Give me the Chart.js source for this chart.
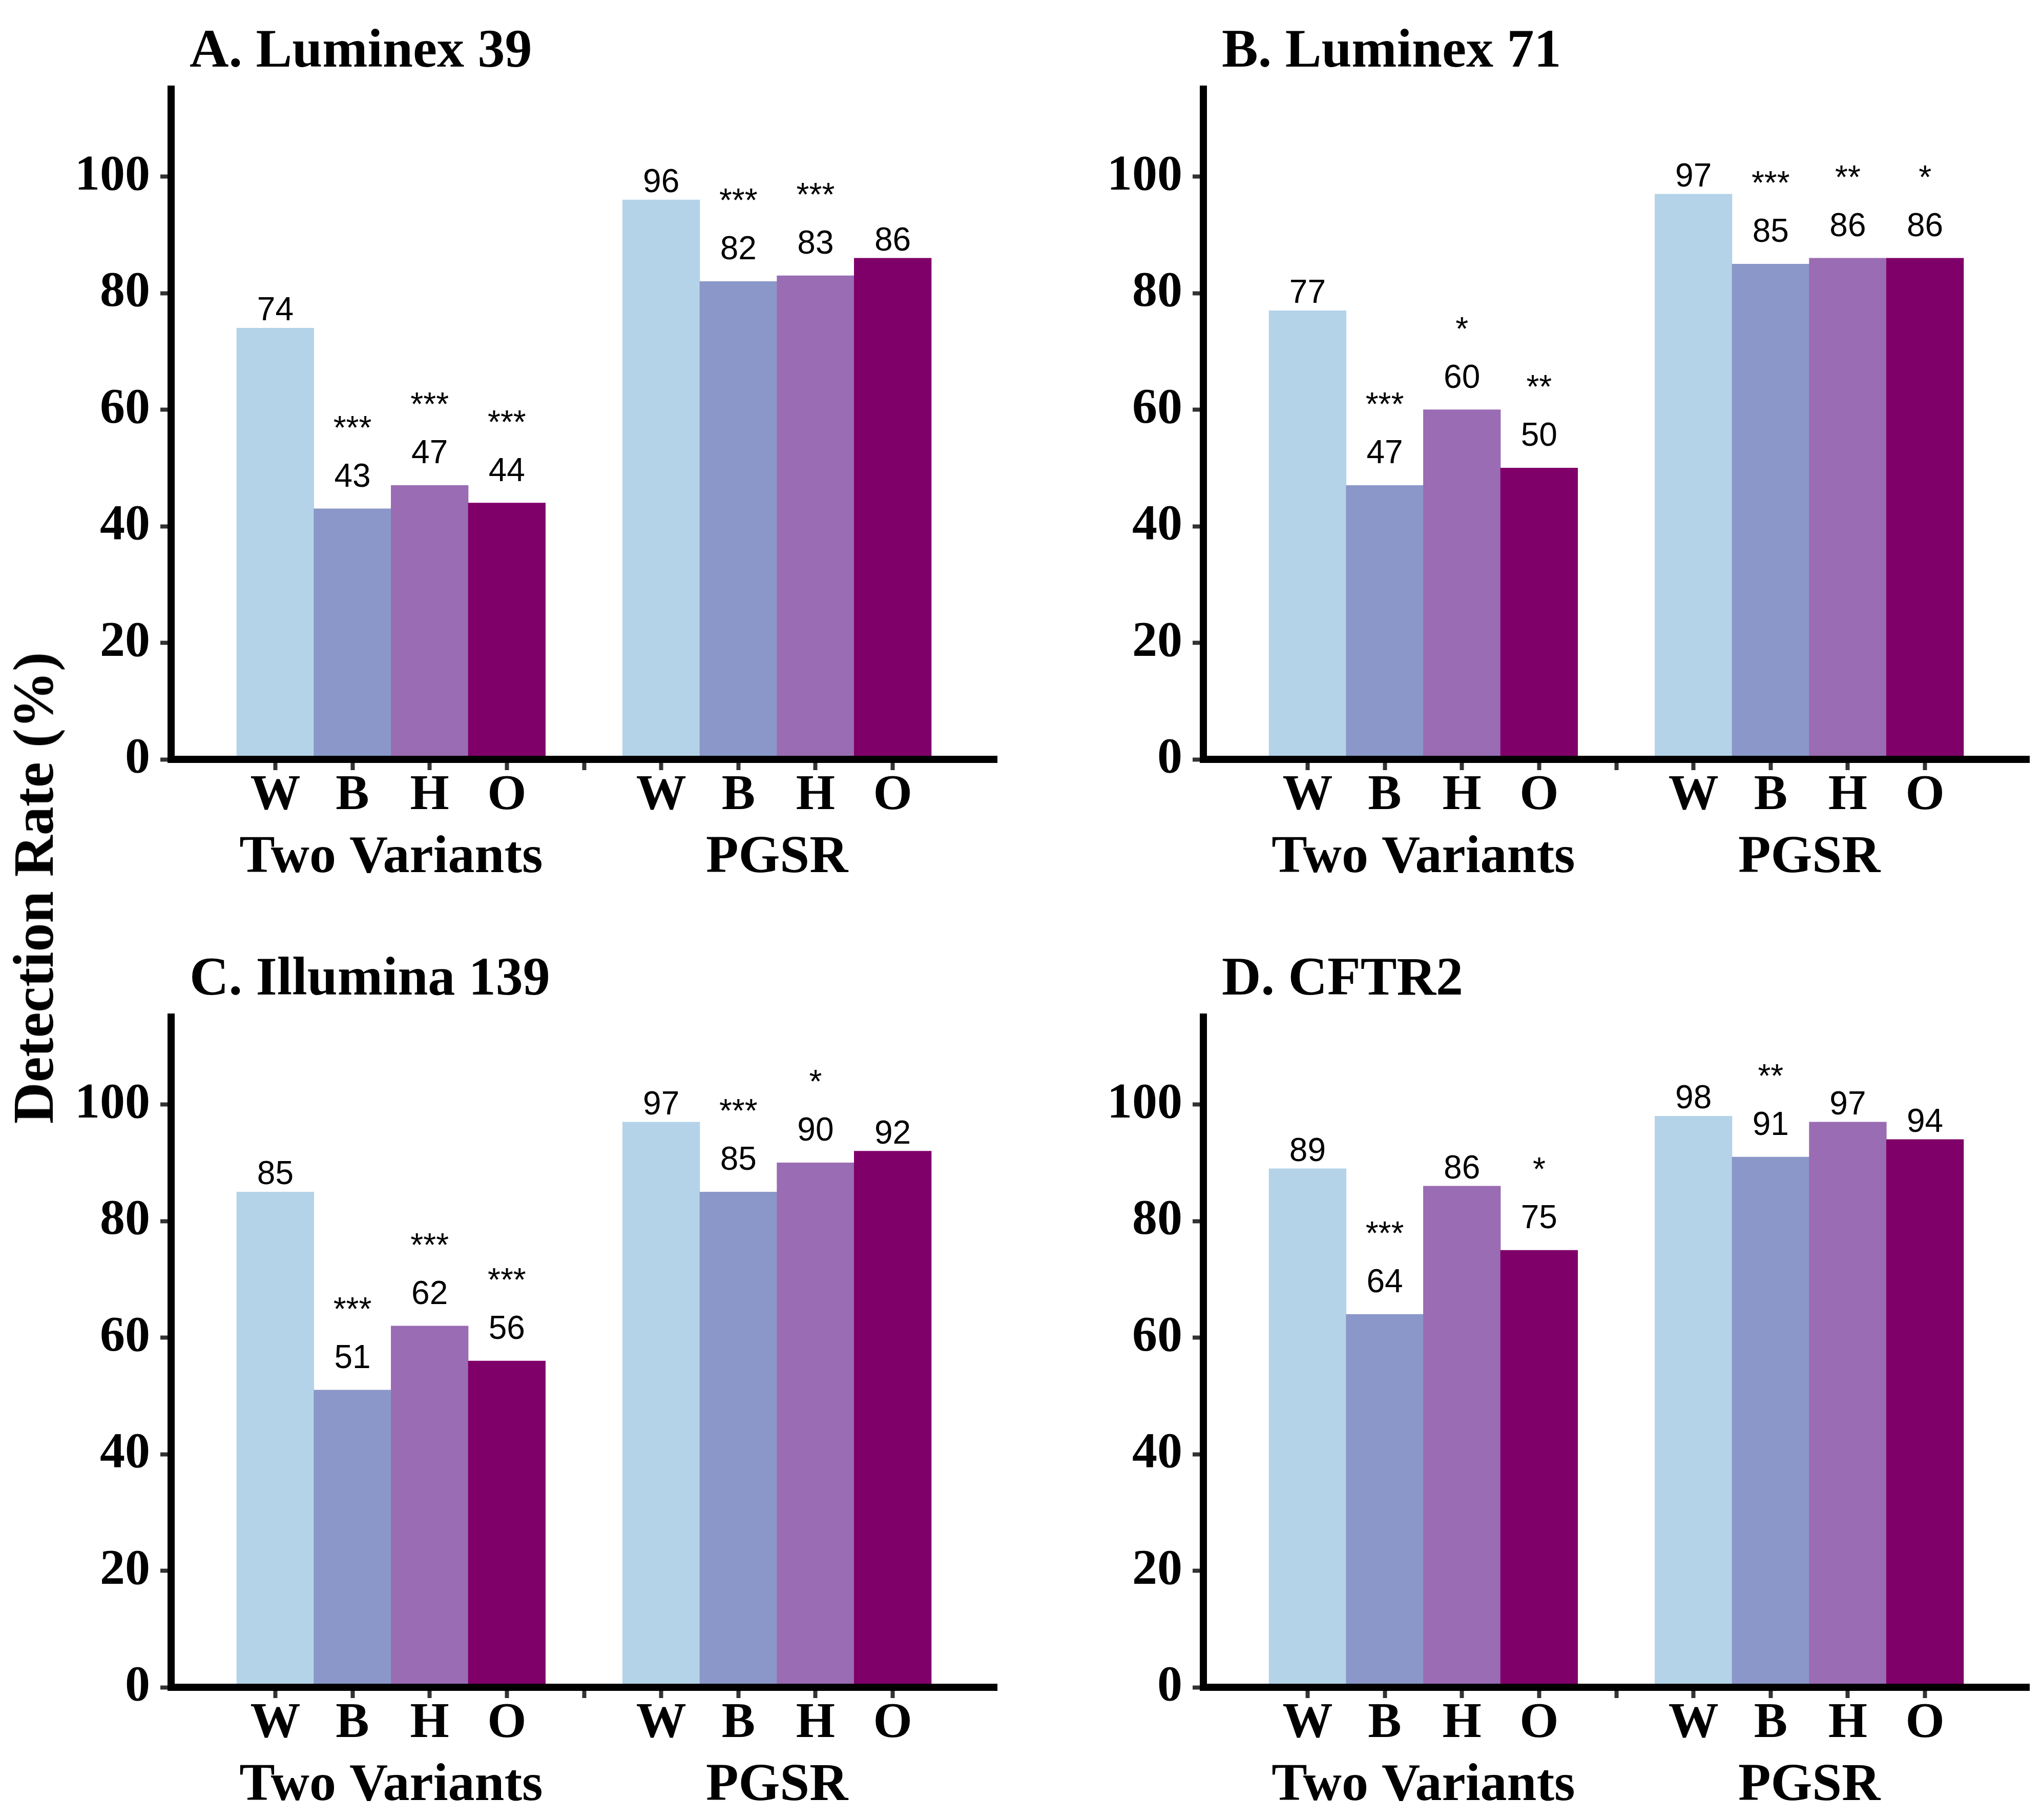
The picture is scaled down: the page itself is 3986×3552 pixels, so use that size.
<!DOCTYPE html>
<html>
<head>
<meta charset="utf-8">
<title>Detection Rate</title>
<script src="https://cdn.jsdelivr.net/npm/chart.js@4.4.1/dist/chart.umd.min.js"></script>
<style>
  html, body { margin: 0; padding: 0; background: #fff; overflow: hidden; }
  body { width: 3986px; height: 3552px; position: relative; }
  canvas { position: absolute; }
  #ytitle {
    position: absolute; left: 65px; top: 1733px;
    transform: translate(-50%, -50%) rotate(-90deg);
    font: bold 112px "Liberation Serif"; line-height: 112px;
    white-space: nowrap; color: #000;
  }
</style>
</head>
<body>
<canvas id="panelA" width="1971" height="1741" style="left:0px;top:0px"></canvas>
<canvas id="panelB" width="1971" height="1741" style="left:2015px;top:0px"></canvas>
<canvas id="panelC" width="1971" height="1741" style="left:0px;top:1811px"></canvas>
<canvas id="panelD" width="1971" height="1741" style="left:2015px;top:1811px"></canvas>
<div id="ytitle">Detection Rate (%)</div>

<script>
// categories
const groups = ["Two Variants", "PGSR"];
const xTickLabels = ["W", "B", "H", "O", "", "W", "B", "H", "O"];
const yTicks = [0, 20, 40, 60, 80, 100];

const panelTitles = ["A. Luminex 39", "B. Luminex 71", "C. Illumina 139", "D. CFTR2"];

// detection rates, Two Variants W B H O then PGSR W B H O
const luminex39 = [74, 43, 47, 44, 96, 82, 83, 86];
const luminex71 = [77, 47, 60, 50, 97, 85, 86, 86];
const illumina139 = [85, 51, 62, 56, 97, 85, 90, 92];
const cftr2 = [89, 64, 86, 75, 98, 91, 97, 94];

// significance marks, same order
const luminex39Stars = ["", "***", "***", "***", "", "***", "***", ""];
const luminex71Stars = ["", "***", "*", "**", "", "***", "**", "*"];
const illumina139Stars = ["", "***", "***", "***", "", "***", "*", ""];
const cftr2Stars = ["", "***", "", "*", "", "**", "", ""];

const barColors = ["#b4d3e8", "#8a97c8", "#9a6cb3", "#800069"];

const serif = "Liberation Serif";
const sans = "Liberation Sans";

// value labels + stars above each bar
const barLabels = {
    id: "barLabels",
    afterDatasetsDraw(chart, args, opts) {
        const ctx = chart.ctx;
        const meta = chart.getDatasetMeta(0);
        const data = chart.data.datasets[0].data;
        ctx.save();
        ctx.font = "64px \"" + sans + "\"";
        ctx.fillStyle = "#000";
        ctx.textAlign = "center";
        ctx.textBaseline = "alphabetic";
        meta.data.forEach((bar, i) => {
            const star = opts.stars[i];
            const base = bar.y - (star ? 43 : 15);
            ctx.fillText(String(data[i].y), bar.x, base);
            if (star) ctx.fillText(star, bar.x, base - 93);
        });
        ctx.restore();
    }
};

// panel title and group names under the axis
const panelText = {
    id: "panelText",
    afterDraw(chart, args, opts) {
        const ctx = chart.ctx;
        const area = chart.chartArea;
        const xs = chart.scales.x;
        ctx.save();
        ctx.fillStyle = "#000";
        ctx.textBaseline = "alphabetic";
        ctx.font = "bold 106px \"" + serif + "\"";
        ctx.textAlign = "left";
        ctx.fillText(opts.title, area.left + 36, area.top - 44);

        ctx.font = "bold 104px \"" + serif + "\"";
        ctx.textAlign = "center";
        let slots = [];
        xTickLabels.forEach((l, i) => { if (l) slots.push(i); });
        groups.forEach((g, gi) => {
            const s = slots.slice(gi * 4, gi * 4 + 4);
            const mid = (s[0] + s[s.length - 1]) / 2;
            ctx.fillText(g, xs.getPixelForValue(mid), area.bottom + 220);
        });
        ctx.restore();
    }
};

function makePanel(id, title, values, stars) {
    let slots = [];
    xTickLabels.forEach((l, i) => { if (l) slots.push(i); });

    const points = values.map((v, i) => ({ x: slots[i], y: v }));
    const colors = values.map((v, i) => barColors[i % 4]);

    const tickFont = { family: serif, weight: "bold", size: 98, lineHeight: 1 };

    return new Chart(document.getElementById(id), {
        type: "bar",
        data: {
            datasets: [{
                data: points,
                backgroundColor: colors,
                borderWidth: 0,
                barPercentage: 1,
                categoryPercentage: 1
            }]
        },
        options: {
            responsive: false,
            animation: false,
            devicePixelRatio: 1,
            layout: { padding: { left: 0, right: 25, top: 174, bottom: 0 } },
            plugins: {
                legend: { display: false },
                tooltip: { enabled: false },
                barLabels: { stars: stars },
                panelText: { title: title }
            },
            scales: {
                x: {
                    type: "linear",
                    min: -1.35,
                    max: 9.35,
                    offset: false,
                    afterBuildTicks: s => { s.ticks = xTickLabels.map((l, i) => ({ value: i })); },
                    afterFit: s => { s.height = 259; },
                    grid: {
                        display: true, offset: false, drawOnChartArea: false, drawTicks: true,
                        tickLength: 21, tickWidth: 8, tickColor: "#333333", lineWidth: 1
                    },
                    border: { display: true, color: "#000", width: 14, z: 1 },
                    ticks: {
                        autoSkip: false, maxRotation: 0, minRotation: 0,
                        padding: 2, color: "#000", font: tickFont,
                        callback: v => xTickLabels[v]
                    }
                },
                y: {
                    min: 0,
                    max: 115,
                    afterBuildTicks: s => { s.ticks = yTicks.map(v => ({ value: v })); },
                    afterFit: s => { s.width = 334; },
                    grid: {
                        display: true, drawOnChartArea: false, drawTicks: true,
                        tickLength: 21, tickWidth: 8, tickColor: "#333333", lineWidth: 1
                    },
                    border: { display: true, color: "#000", width: 14, z: 1 },
                    ticks: { autoSkip: false, padding: 20, color: "#000", font: tickFont }
                }
            }
        },
        plugins: [barLabels, panelText]
    });
}

makePanel("panelA", panelTitles[0], luminex39, luminex39Stars);
makePanel("panelB", panelTitles[1], luminex71, luminex71Stars);
makePanel("panelC", panelTitles[2], illumina139, illumina139Stars);
makePanel("panelD", panelTitles[3], cftr2, cftr2Stars);
</script>
</body>
</html>
